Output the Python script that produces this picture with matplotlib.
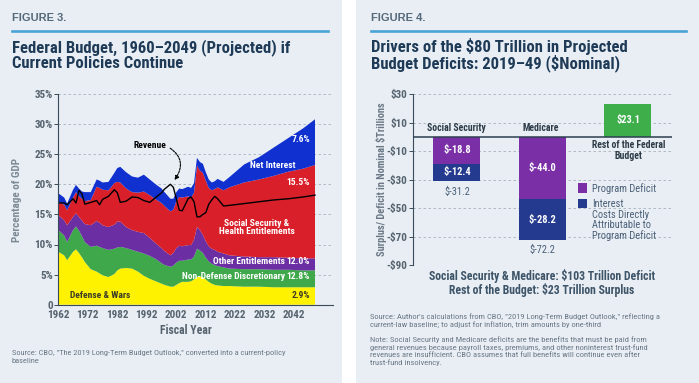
import matplotlib
matplotlib.use('Agg')
import matplotlib.pyplot as plt
from matplotlib.patches import Rectangle
from matplotlib.lines import Line2D
from matplotlib import font_manager

plt.rcParams['text.parse_math'] = False
_avail = {f.name for f in font_manager.fontManager.ttflist}
_pref = ['Roboto Condensed', 'Archivo Narrow', 'Liberation Sans Narrow', 'PT Sans Narrow',
         'Barlow Semi Condensed']
NARROW = [n for n in _pref if n in _avail][:1] + ['Liberation Sans', 'DejaVu Sans']
plt.rcParams['font.family'] = NARROW

# ---------------- Figure 3 data (% of GDP) ----------------
years = [1962, 1964, 1965, 1967, 1968, 1969, 1970, 1971, 1973, 1975, 1976, 1977,
         1979, 1981, 1982, 1983, 1985, 1987, 1989, 1991, 1993, 1995, 1997, 1998,
         2000, 2001, 2002, 2003, 2004, 2006, 2007, 2008, 2009, 2010, 2011, 2012,
         2013, 2014, 2015, 2016, 2018, 2020, 2025, 2030, 2035, 2040, 2045, 2049]
defense = [8.8, 8.2, 7.4, 8.8, 9.2, 8.6, 7.9, 7.1, 5.9, 5.5, 5.2, 4.9,
           4.6, 5.1, 5.7, 6.0, 6.1, 6.0, 5.5, 4.8, 4.3, 3.9, 3.5, 3.3,
           3.0, 3.0, 3.3, 3.6, 3.8, 3.8, 3.9, 4.2, 4.6, 4.7, 4.6, 4.2,
           3.8, 3.5, 3.3, 3.2, 3.1, 3.1, 3.0, 3.0, 2.9, 2.9, 2.9, 2.9]
nondefense = [3.6, 3.3, 3.0, 3.6, 3.8, 3.7, 3.5, 3.3, 3.7, 4.3, 4.4, 4.5,
              4.5, 4.2, 3.8, 3.6, 3.3, 3.1, 3.3, 3.7, 3.8, 3.7, 3.4, 3.3,
              3.3, 3.5, 3.7, 3.7, 3.5, 3.7, 3.6, 3.8, 4.7, 4.3, 4.0, 3.6,
              3.4, 3.3, 3.3, 3.2, 3.1, 2.9, 2.9, 2.9, 2.9, 2.9, 2.8, 2.8]
other_ent = [2.5, 2.5, 2.8, 2.2, 2.2, 2.3, 2.6, 3.0, 3.6, 4.1, 4.0, 3.8,
             3.8, 4.0, 4.3, 4.2, 3.5, 3.3, 3.3, 3.4, 3.0, 2.6, 2.5, 2.3,
             1.9, 2.1, 2.4, 2.5, 2.4, 2.4, 2.4, 2.8, 3.6, 3.4, 3.0, 2.7,
             2.5, 2.5, 2.5, 2.4, 2.3, 2.2, 2.1, 2.0, 2.1, 2.0, 2.0, 2.0]
ss_health = [2.2, 2.6, 2.5, 3.2, 3.5, 3.4, 3.6, 3.8, 4.2, 5.7, 5.8, 5.9,
             6.1, 6.9, 6.6, 6.5, 6.4, 6.3, 6.5, 6.9, 7.1, 7.3, 7.5, 7.5,
             7.3, 7.2, 7.8, 8.1, 8.1, 8.1, 7.9, 7.8, 10.2, 9.9, 10.3, 10.1,
             9.7, 9.7, 10.1, 10.7, 10.5, 11.3, 12.3, 12.9, 13.5, 14.3, 14.9, 15.5]
net_interest = [1.4, 1.2, 1.1, 1.3, 1.2, 1.3, 1.2, 1.5, 1.3, 1.2, 1.2, 1.2,
                1.4, 1.7, 2.3, 2.6, 2.7, 2.6, 2.5, 2.8, 2.6, 2.5, 2.4, 2.3,
                2.1, 1.8, 1.5, 1.4, 1.4, 1.6, 1.6, 1.6, 1.3, 1.4, 1.5, 1.4,
                1.4, 1.3, 1.3, 1.4, 1.4, 1.7, 3.0, 3.7, 4.7, 5.6, 6.7, 7.6]
revenue = [16.9, 16.9, 16.6, 17.6, 16.9, 19.0, 18.4, 16.7, 17.0, 17.3, 16.6, 17.5,
           18.0, 19.1, 18.6, 17.0, 17.2, 17.9, 17.8, 17.3, 17.0, 17.8, 18.6, 19.2,
           20.0, 19.5, 17.6, 15.7, 15.6, 17.6, 17.9, 17.1, 14.6, 14.6, 15.0, 15.3,
           16.7, 17.4, 18.0, 17.6, 16.4, 16.5, 16.8, 17.1, 17.4, 17.6, 17.9, 18.2]
x_ticks = [1962, 1972, 1982, 1992, 2002, 2012, 2022, 2032, 2042]
y_ticks = [0, 5, 10, 15, 20, 25, 30, 35]
y_ticklabels = ['0', '5%', '10%', '15%', '20%', '25%', '30%', '35%']

# ---------------- Figure 4 data ($ trillions) ----------------
programs = ['Social Security', 'Medicare']
program_deficit = [-18.8, -44.0]
interest_cost = [-12.4, -28.2]
rest_of_budget = 23.1
y4_ticks = [30, 10, -10, -30, -50, -70, -90]
y4_ticklabels = ['$30', '$10', '-$10', '-$30', '-$50', '-$70', '-$90']

# ---------------- styling ----------------
W, H = 699, 383
BG = '#e8eef4'
TITLE = '#1e3a56'
FIGLBL = '#55697b'
RULE = '#4aa3d6'
AXC = '#3b4a58'
TICKC = '#56636f'
SRC = '#6b7885'
LEGC = '#4b5f78'
YELLOW, GREEN, PURPLE, RED, BLUE = '#fff200', '#3fa84b', '#6b2fa3', '#d9202a', '#1030d0'
PURPLE_R, NAVY, GREEN_R = '#7a2fa6', '#243a8f', '#3dae4a'

fig = plt.figure(figsize=(W / 100, H / 100), dpi=100)
fig.patch.set_facecolor('white')


def rect(x0, y0, x1, y1):
    return [x0 / W, 1 - y1 / H, (x1 - x0) / W, (y1 - y0) / H]


def ft(x, y, s, **kw):
    return fig.text(x / W, 1 - y / H, s, **kw)


for (x0, x1) in [(0, 342), (356, 699)]:
    fig.patches.append(Rectangle((x0 / W, 0), (x1 - x0) / W, 1, transform=fig.transFigure,
                                 facecolor=BG, edgecolor='none', zorder=-5))

# headers
for (x0, x1, lbl) in [(12, 328, 'FIGURE 3.'), (371, 686, 'FIGURE 4.')]:
    ft(x0, 18, lbl, family=['Liberation Sans', 'DejaVu Sans'], fontsize=8, fontweight='bold',
       color=FIGLBL, va='center', ha='left')
    fig.add_artist(Line2D([x0 / W, x1 / W], [1 - 30.5 / H] * 2, color=RULE, lw=1.9,
                          transform=fig.transFigure))

ft(12, 55, 'Federal Budget, 1960–2049 (Projected) if\nCurrent Policies Continue', fontsize=12,
   fontweight='bold', color=TITLE, va='center', ha='left', linespacing=0.98)
ft(371, 55, 'Drivers of the $80 Trillion in Projected\nBudget Deficits: 2019–49 ($Nominal)', fontsize=12,
   fontweight='bold', color=TITLE, va='center', ha='left', linespacing=0.98)

# ---------------- left chart ----------------
ax = fig.add_axes(rect(58.3, 94, 333, 304.7))
ax.set_facecolor('none')
ax.stackplot(years, defense, nondefense, other_ent, ss_health, net_interest,
             colors=[YELLOW, GREEN, PURPLE, RED, BLUE], lw=0, zorder=2)
ax.plot(years, revenue, color='black', lw=1.0, zorder=3)
ax.set_xlim(1962, 2055.1)
ax.set_ylim(0, 35)
for y in y_ticks[1:]:
    ax.axhline(y, color='#a7b2bd', lw=0.6, ls=(0, (3, 3)), zorder=1)
ax.set_yticks(y_ticks)
ax.set_yticklabels(y_ticklabels)
ax.set_xticks(x_ticks)
ax.set_xticklabels([str(t) for t in x_ticks])
for s in ['top', 'right']:
    ax.spines[s].set_visible(False)
for s in ['left', 'bottom']:
    ax.spines[s].set_color(AXC)
    ax.spines[s].set_linewidth(0.8)
    ax.spines[s].set_zorder(4)
ax.tick_params(axis='y', length=3, width=0.7, color=AXC, labelsize=8, labelcolor=TICKC, pad=1)
ax.tick_params(axis='x', length=0, labelsize=8, labelcolor=TICKC, pad=4)
for lab in ax.get_xticklabels() + ax.get_yticklabels():
    lab.set_fontweight('bold')

ft(17, 200, 'Percentage of GDP', rotation=90, fontsize=8, fontweight='bold', color='#7d8995',
   ha='center', va='center')
ft(186, 331, 'Fiscal Year', fontsize=8.5, fontweight='bold', color=TICKC, ha='center', va='center')

lab_kw = dict(fontsize=6.8, fontweight='bold', va='center')
ax.annotate('Revenue', xy=(2001.4, 20.7), xytext=(1993.0, 26.4), ha='center', va='center',
            fontsize=6.8, fontweight='bold', color='black',
            arrowprops=dict(arrowstyle='-|>', color='black', lw=0.8, linestyle=(0, (2, 1)),
                            connectionstyle='arc3,rad=-0.55', relpos=(1, 0.5),
                            mutation_scale=6, shrinkA=1, shrinkB=0))
ft(272.7, 165, 'Net Interest', color='white', ha='center', **lab_kw)
ft(310, 139.5, '7.6%', color='white', ha='right', **lab_kw)
ft(310, 182.3, '15.5%', color='white', ha='right', **lab_kw)
ft(256.7, 227.5, 'Social Security &\nHealth Entitlements', color='white', ha='center',
   linespacing=1.0, **lab_kw)
ft(285, 261.7, 'Other Entitlements', color='white', ha='right', **lab_kw)
ft(310, 261.7, '12.0%', color='white', ha='right', **lab_kw)
ft(285, 276.7, 'Non-Defense Discretionary', color='white', ha='right', **lab_kw)
ft(310, 276.7, '12.8%', color='white', ha='right', **lab_kw)
ft(100, 295, 'Defense & Wars', color='#3a3a2a', ha='center', **lab_kw)
ft(310, 295, '2.9%', color='#3a3a2a', ha='right', **lab_kw)

ft(12, 357, 'Source: CBO, "The 2019 Long-Term Budget Outlook," converted into a current-policy\nbaseline',
   fontsize=6, color=SRC, ha='left', va='center', linespacing=1.25)

# ---------------- right chart ----------------
ax2 = fig.add_axes(rect(412.7, 94, 672, 265))
ax2.set_facecolor('none')
ax2.set_xlim(-0.518, 2.515)
ax2.set_ylim(-90, 30)
xpos = list(range(len(programs)))
bw = 0.55
ax2.bar(xpos, program_deficit, width=bw, color=PURPLE_R, zorder=2)
ax2.bar(xpos, interest_cost, width=bw, bottom=program_deficit, color=NAVY, zorder=2)
ax2.bar([2], [rest_of_budget], width=bw, color=GREEN_R, zorder=2)
for y in y4_ticks:
    ax2.axhline(y, color='#a7b2bd', lw=0.6, ls=(0, (3, 3)), zorder=1)
ax2.axhline(0, color='#2c3e50', lw=1.1, zorder=3)
ax2.set_yticks(y4_ticks)
ax2.set_yticklabels(y4_ticklabels)
ax2.set_xticks([])
for s in ['top', 'right', 'bottom']:
    ax2.spines[s].set_visible(False)
ax2.spines['left'].set_color(AXC)
ax2.spines['left'].set_linewidth(0.8)
ax2.tick_params(axis='y', length=3, width=0.7, color=AXC, labelsize=8, labelcolor=TICKC, pad=1)
for lab in ax2.get_yticklabels():
    lab.set_fontweight('bold')

bar_kw = dict(ha='center', va='center', color='white', fontsize=7.5, fontweight='bold', zorder=4)
for i in xpos:
    p, q = program_deficit[i], interest_cost[i]
    ax2.text(i, p / 2, f'${p:.1f}', **bar_kw)
    ax2.text(i, p + q / 2, f'${q:.1f}', **bar_kw)
    ax2.text(i, p + q - 7.5, f'${p + q:.1f}', ha='center', va='center', color=LEGC, fontsize=7.5)
ax2.text(2, rest_of_budget / 2, f'${rest_of_budget:.1f}', **bar_kw)

cat_kw = dict(ha='center', va='center', color='#2d3b48', fontsize=7, fontweight='bold')
ft(456.7, 128.3, programs[0], **cat_kw)
ft(541, 128.3, programs[1], **cat_kw)
ft(628.3, 150.5, 'Rest of the Federal\nBudget', linespacing=1.05, **cat_kw)

fig.patches.append(Rectangle((578.3 / W, 1 - 192.7 / H), 8.4 / W, 9.4 / H, transform=fig.transFigure,
                             facecolor=PURPLE_R, edgecolor='none'))
fig.patches.append(Rectangle((578.3 / W, 1 - 208.3 / H), 8.4 / W, 9.3 / H, transform=fig.transFigure,
                             facecolor=NAVY, edgecolor='none'))
leg_kw = dict(fontsize=7.5, color=LEGC, ha='left', va='center')
ft(592.3, 188.3, 'Program Deficit', **leg_kw)
for yy, line in zip([204.3, 215.0, 225.5, 236.0],
                    ['Interest', 'Costs Directly', 'Attributable to', 'Program Deficit']):
    ft(592.3, yy, line, **leg_kw)

ft(381.7, 179.5, 'Surplus/ Deficit in Nominal $Trillions', rotation=90, fontsize=7.5, fontweight='bold',
   color='#6b7785', ha='center', va='center')

ft(542, 283, 'Social Security & Medicare: $103 Trillion Deficit\nRest of the Budget: $23 Trillion Surplus',
   fontsize=8.5, fontweight='bold', color='#3e5468', ha='center', va='center', linespacing=1.0)

ft(370, 320.5, 'Source: Author\'s calculations from CBO, "2019 Long-Term Budget Outlook," reflecting a\n'
   'current-law baseline; to adjust for inflation, trim amounts by one-third',
   fontsize=6.1, color=SRC, ha='left', va='center', linespacing=1.25)
ft(370, 351, 'Note: Social Security and Medicare deficits are the benefits that must be paid from\n'
   'general revenues because payroll taxes, premiums, and other noninterest trust-fund\n'
   'revenues are insufficient. CBO assumes that full benefits will continue even after\n'
   'trust-fund insolvency.',
   fontsize=6.1, color=SRC, ha='left', va='center', linespacing=1.25)

fig.savefig('out.png', dpi=100, facecolor=fig.get_facecolor())
